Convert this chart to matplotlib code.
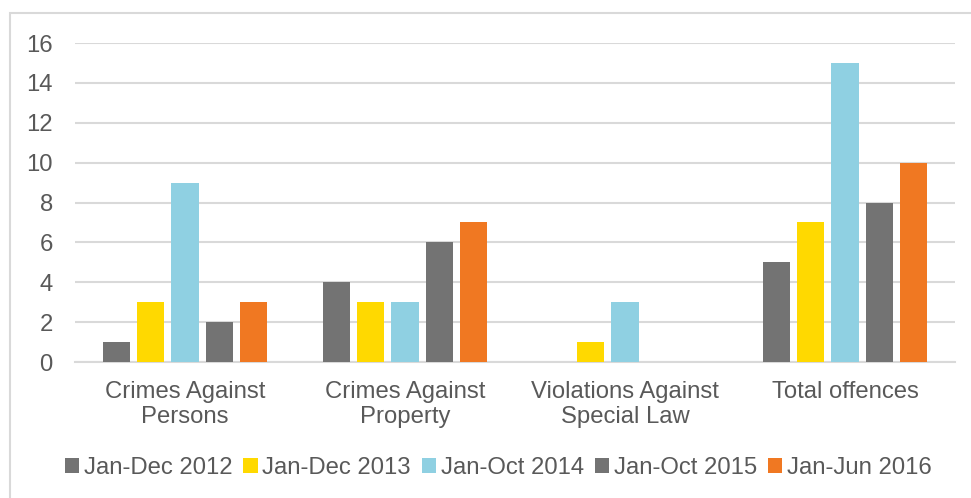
import matplotlib.pyplot as plt
import numpy as np
from matplotlib.patches import Rectangle, Patch

plt.rcParams['font.family'] = ['Liberation Sans', 'DejaVu Sans']

categories = ['Crimes Against\nPersons', 'Crimes Against\nProperty',
              'Violations Against\nSpecial Law', 'Total offences']
periods = ['Jan-Dec 2012', 'Jan-Dec 2013', 'Jan-Oct 2014', 'Jan-Oct 2015', 'Jan-Jun 2016']
jan_dec_2012 = [1, 4, 0, 5]
jan_dec_2013 = [3, 3, 1, 7]
jan_oct_2014 = [9, 3, 3, 15]
jan_oct_2015 = [2, 6, 0, 8]
jan_jun_2016 = [3, 7, 0, 10]
series = [jan_dec_2012, jan_dec_2013, jan_oct_2014, jan_oct_2015, jan_jun_2016]
colors = ['#737373', '#FFD900', '#8FD0E2', '#737373', '#F07822']

text_color = '#595959'
grid_color = '#D9D9D9'
fs = 17.2

fig = plt.figure(figsize=(9.71, 4.98), dpi=100)
ax = fig.add_axes([75 / 971, 1 - 362 / 498, 880 / 971, 319 / 498])

x = np.arange(len(categories))
step = 0.155
width = 0.123
for i, (vals, c) in enumerate(zip(series, colors)):
    ax.bar(x + (i - 2) * step, vals, width=width, color=c, label=periods[i], zorder=3)

ax.set_xlim(-0.5, len(categories) - 0.5)
ax.set_ylim(0, 16)
ax.set_yticks(range(0, 17, 2))
ax.yaxis.grid(True, color=grid_color, linewidth=1.5, zorder=0)
ax.set_axisbelow(True)
for s in ['top', 'right', 'left']:
    ax.spines[s].set_visible(False)
ax.spines['bottom'].set_color(grid_color)
ax.spines['bottom'].set_linewidth(1.5)
ax.tick_params(axis='y', length=0, pad=16, labelsize=fs, labelcolor=text_color)
ax.tick_params(axis='x', length=0, pad=14, labelsize=fs, labelcolor=text_color)
ax.set_xticks(x)
ax.set_xticklabels(categories, linespacing=1.15)

# outer chart border
fig.patches.append(Rectangle((10 / 971, -0.1), 1.1, 1 - 13 / 498 + 0.1,
                             transform=fig.transFigure, fill=False,
                             edgecolor='#D9D9D9', linewidth=1.5))

handles = [Patch(facecolor=c) for c in colors]
fig.legend(handles, periods, loc='center', bbox_to_anchor=(0.513, 1 - 468 / 498),
           ncol=5, frameon=False, fontsize=fs, handlelength=0.6, handleheight=0.6,
           handletextpad=0.2, columnspacing=0.45, labelcolor=text_color,
           borderaxespad=0)

fig.savefig('out.png', dpi=100)
